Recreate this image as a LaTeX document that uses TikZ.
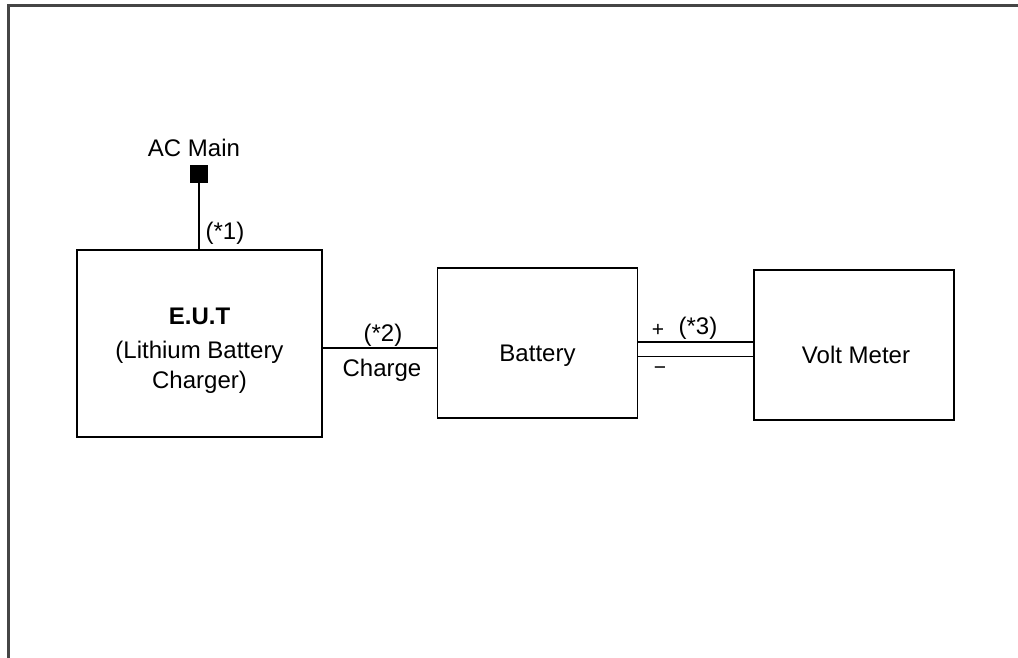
\documentclass[tikz,border=0pt]{standalone}
\usepackage{fontspec}
\setmainfont{Liberation Sans}
\usepackage{xcolor}
\definecolor{framegrey}{HTML}{454545}
\usetikzlibrary{calc,positioning}

\begin{document}
\begin{tikzpicture}[
  x=1pt, y=-1pt,
  font=\fontsize{24}{30}\selectfont,
  unit/.style={draw=black, line width=1.6pt, inner sep=0pt},
  wire/.style={draw=black, line width=1.6pt},
  frameline/.style={draw=framegrey, line width=3pt},
  tag/.style={inner sep=0pt, anchor=base},
  sign/.style={inner sep=0pt, anchor=base, font=\fontsize{21}{24}\selectfont}
]
\useasboundingbox (0,0) rectangle (1018,658);

% Outer frame (only top and left edges show)
\draw[frameline] (1018,6) -- (8,6) -- (8,658);

% Units
\node[unit, minimum width=245, minimum height=187] (eut) at (199.5,343.5) {};
\node[tag, align=center] (eutlabel) at ($(eut.center)+(0,44.5)$)
  {\textbf{E.U.T}\\[4pt](Lithium Battery\\Charger)};
\node[unit, minimum width=200, minimum height=150] (bat) at (537.5,343) {};
\node[tag] (batlabel) at ($(bat.center)+(0,18)$) {Battery};
\node[unit, minimum width=200, minimum height=150] (vm) at (854,345) {};
\node[tag] (vmlabel) at ($(vm.center)+(2,18)$) {Volt Meter};

% AC mains terminal
\node[fill=black, minimum size=18, inner sep=0pt] (ac) at (199,174) {};
\node[tag] (aclabel) at ($(ac.center)+(-5,-17)$) {AC Main};
\draw[wire] (ac.south) -- (ac.south |- eut.north);
\node[tag] (t1) at (225,240) {(*1)};

% Charge line
\draw[wire] ([yshift=-5pt]bat.west) -- ([yshift=-5pt]bat.west -| eut.east);
\node[tag] (t2) at (383,341) {(*2)};
\node[tag] (chg) at (382,376) {Charge};

% Measuring leads
\draw[wire] ([yshift=1pt]bat.east) -- ([yshift=1pt]bat.east -| vm.west);
\draw[wire] ([yshift=-13.5pt]bat.east) -- ([yshift=-13.5pt]bat.east -| vm.west);
\node[sign] (plus) at (658,336) {+};
\node[sign] (minus) at (660,374) {−};
\node[tag] (t3) at (698,334) {(*3)};

\end{tikzpicture}
\end{document}
